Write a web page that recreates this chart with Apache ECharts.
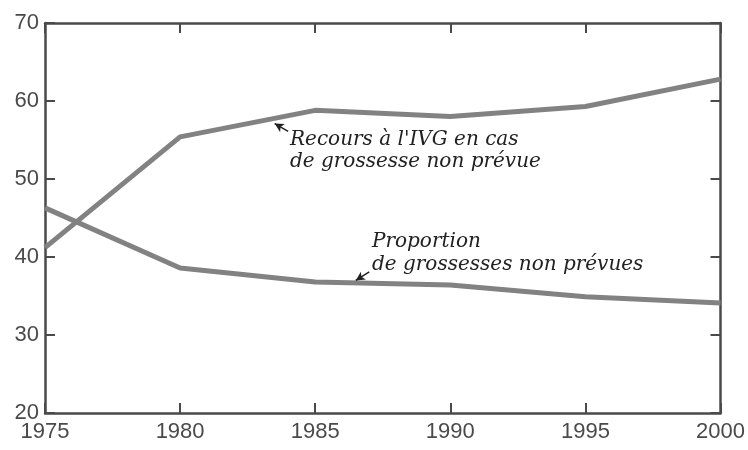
<!DOCTYPE html>
<html>
<head>
<meta charset="utf-8">
<script src="https://cdn.jsdelivr.net/npm/echarts@6/dist/echarts.min.js"></script>
<style>
  html, body { margin: 0; padding: 0; background: #fff; }
  #chart-dev { width: 748px; height: 450px; }
</style>
</head>
<body>
<div id="chart-dev"></div>
<script>
var years = [1975, 1980, 1985, 1990, 1995, 2000];
var recoursIVG = [41.2, 55.4, 58.8, 58.0, 59.3, 62.8];
var propNonPrevues = [46.3, 38.6, 36.8, 36.4, 34.9, 34.1];
var xTicks = [1975, 1980, 1985, 1990, 1995, 2000];
var yTicks = [20, 30, 40, 50, 60, 70];

function pairs(xs, ys) {
    return xs.map(function (x, i) { return [x, ys[i]]; });
}

var dom = document.getElementById('chart-dev');
var myChart = echarts.init(dom, null, { renderer: 'canvas' });

var axisCol = '#4a4a4a';
var labelStyle = { color: '#4a4a4a', fontSize: 22, fontFamily: 'Liberation Sans' };

var option = {
    animation: false,
    grid: { left: 45, right: 25, top: 23, bottom: 37 },
    xAxis: [
        {
            type: 'value', min: xTicks[0], max: xTicks[xTicks.length - 1], interval: 5,
            axisLine: { lineStyle: { color: axisCol, width: 2.5 } },
            axisTick: { inside: true, length: 10, lineStyle: { color: axisCol, width: 2 } },
            axisLabel: Object.assign({ margin: 8, formatter: function (v) { return String(v); } }, labelStyle),
            splitLine: { show: false }
        },
        {
            type: 'value', position: 'top', min: xTicks[0], max: xTicks[xTicks.length - 1], interval: 5,
            axisLine: { show: true, lineStyle: { color: axisCol, width: 2.5 } },
            axisTick: { inside: true, length: 10, lineStyle: { color: axisCol, width: 2 } },
            axisLabel: { show: false },
            splitLine: { show: false }
        }
    ],
    yAxis: [
        {
            type: 'value', min: yTicks[0], max: yTicks[yTicks.length - 1], interval: 10,
            axisLine: { show: true, lineStyle: { color: axisCol, width: 2.5 } },
            axisTick: { show: true, inside: true, length: 10, lineStyle: { color: axisCol, width: 2 } },
            axisLabel: Object.assign({ margin: 6 }, labelStyle),
            splitLine: { show: false }
        },
        {
            type: 'value', position: 'right', min: yTicks[0], max: yTicks[yTicks.length - 1], interval: 10,
            axisLine: { show: true, lineStyle: { color: axisCol, width: 2.5 } },
            axisTick: { show: true, inside: true, length: 10, lineStyle: { color: axisCol, width: 2 } },
            axisLabel: { show: false },
            splitLine: { show: false }
        }
    ],
    series: [
        {
            name: "Recours à l'IVG en cas de grossesse non prévue",
            type: 'line',
            data: pairs(years, recoursIVG),
            symbol: 'none',
            lineStyle: { color: '#828282', width: 5 },
            markLine: {
                silent: true,
                symbol: ['none', 'arrow'],
                symbolSize: [7, 9],
                label: { show: false },
                lineStyle: { color: '#222', width: 1.5, type: 'solid' },
                data: [[{ coord: [1984.0, 56.1] }, { coord: [1983.5, 57.1] }]]
            }
        },
        {
            name: 'Proportion de grossesses non prévues',
            type: 'line',
            data: pairs(years, propNonPrevues),
            symbol: 'none',
            lineStyle: { color: '#828282', width: 5 },
            markLine: {
                silent: true,
                symbol: ['none', 'arrow'],
                symbolSize: [7, 9],
                label: { show: false },
                lineStyle: { color: '#222', width: 1.5, type: 'solid' },
                data: [[{ coord: [1987.0, 38.1] }, { coord: [1986.5, 37.0] }]]
            }
        }
    ],
    graphic: [
        {
            type: 'text', left: 290, top: 129,
            style: {
                text: "Recours à l'IVG en cas\nde grossesse non prévue",
                font: 'italic 20px "DejaVu Serif"', lineHeight: 22, fill: '#222'
            }
        },
        {
            type: 'text', left: 372, top: 230,
            style: {
                text: 'Proportion\nde grossesses non prévues',
                font: 'italic 20px "DejaVu Serif"', lineHeight: 23, fill: '#222'
            }
        }
    ]
};

myChart.setOption(option);
window.addEventListener('resize', myChart.resize);
</script>
</body>
</html>
